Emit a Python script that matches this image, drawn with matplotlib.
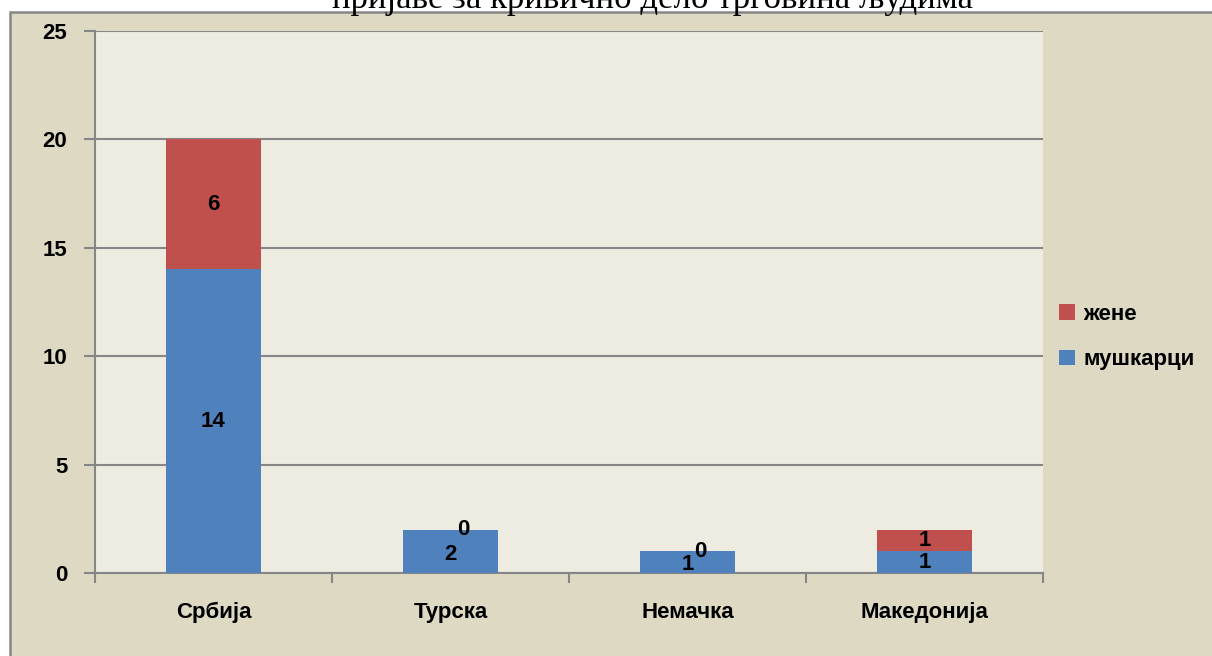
import matplotlib
matplotlib.use("Agg")
import matplotlib.pyplot as plt
from matplotlib.patches import Rectangle
import numpy as np

categories = ["Србија", "Турска", "Немачка", "Македонија"]
men = [14, 2, 1, 1]
women = [6, 0, 0, 1]
series_names = ["мушкарци", "жене"]
title = "пријаве за кривично дело трговина људима"
yticks = [0, 5, 10, 15, 20, 25]

W, H = 1212, 656
fig = plt.figure(figsize=(W / 100, H / 100), dpi=100)
fig.patch.set_facecolor("white")

# outer chart area
fig.patches.append(Rectangle((10 / W, -0.2), 1.2, 1.2 - 12 / H, transform=fig.transFigure,
                             facecolor="#DDD9C3", edgecolor="#868686", linewidth=1.8, zorder=0))

ax = fig.add_axes([95 / W, 1 - 573 / H, (1043 - 95) / W, (573 - 31) / H])
ax.set_facecolor("#EEECE1")
ax.set_zorder(1)

x = np.arange(len(categories))
blue, red = "#4F81BD", "#C0504D"
bw = 0.4
ax.bar(x, men, width=bw, color=blue, label=series_names[0], zorder=3)
ax.bar(x, women, width=bw, bottom=men, color=red, label=series_names[1], zorder=3)

ax.set_xlim(-0.5, len(categories) - 0.5)
ax.set_ylim(0, 25)
ax.set_yticks(yticks)
ax.set_yticklabels([str(v) for v in yticks])
ax.yaxis.grid(True, color="#868686", linewidth=1.5, zorder=1)
ax.set_axisbelow(True)

for s in ["top", "right"]:
    ax.spines[s].set_visible(False)
for s in ["left", "bottom"]:
    ax.spines[s].set_color("#868686")
    ax.spines[s].set_linewidth(1.5)

fam = ["Liberation Sans", "DejaVu Sans"]
fs = 16
ax.tick_params(axis="y", length=8, width=1.5, color="#868686", pad=12, labelsize=fs)
ax.set_xticks(np.arange(-0.5, len(categories), 1.0))
ax.set_xticks(x, minor=True)
ax.set_xticklabels([])
ax.set_xticklabels(categories, minor=True)
ax.tick_params(axis="x", which="major", length=7, width=1.5, color="#868686", direction="out")
ax.tick_params(axis="x", which="minor", length=0, pad=21, labelsize=fs)
for lab in ax.get_yticklabels() + ax.get_xticklabels(minor=True):
    lab.set_fontfamily(fam)
    lab.set_fontweight("bold")

# data labels
for i in range(len(categories)):
    m, w = men[i], women[i]
    ax.annotate(str(m), (x[i], m / 2), ha="center", va="center", fontsize=fs,
                fontfamily=fam, fontweight="bold", zorder=5,
                xytext=(0, -2) if w == 0 else (0, 0), textcoords="offset points")
    if w == 0:
        ax.annotate(str(w), (x[i], m), ha="center", va="center", fontsize=fs,
                    fontfamily=fam, fontweight="bold", zorder=5,
                    xytext=(9, 0), textcoords="offset points")
    else:
        ax.annotate(str(w), (x[i], m + w / 2), ha="center", va="center", fontsize=fs,
                    fontfamily=fam, fontweight="bold", zorder=5)

handles, labels = ax.get_legend_handles_labels()
leg = fig.legend(handles[::-1], labels[::-1], loc="center left",
                 bbox_to_anchor=(1039 / W, 1 - 337 / H), frameon=False,
                 prop={"family": fam, "weight": "bold", "size": fs},
                 handlelength=0.7, handleheight=0.7, handletextpad=0.4, labelspacing=1.1)

fig.text(652 / W, 1 - 8 / H, title, ha="center", va="baseline",
         fontsize=25, family=["Liberation Serif", "DejaVu Serif"])

fig.savefig("out.png", dpi=100)
